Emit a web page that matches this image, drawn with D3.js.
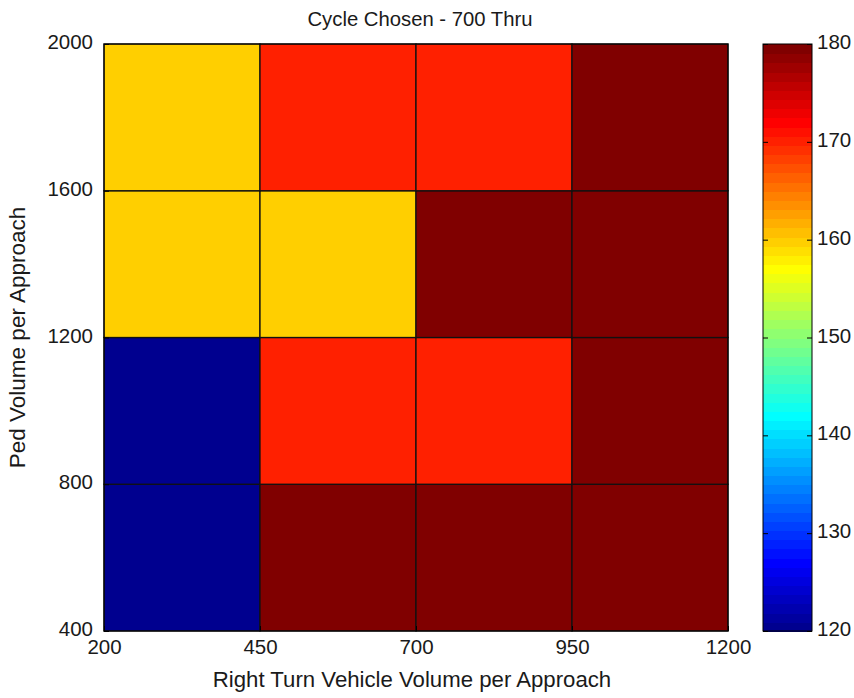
<!DOCTYPE html>
<html>
<head>
<meta charset="utf-8">
<script src="https://cdn.jsdelivr.net/npm/d3@7/dist/d3.min.js"></script>
<style>
  html, body { margin: 0; padding: 0; background: #fff; }
  svg { display: block; }
  text { font-family: "Liberation Sans", Arial, sans-serif; fill: #1a1a1a; }
</style>
</head>
<body>
<svg id="chart" width="854" height="698"></svg>
<script>
// Bin edges of the grid
const xEdges = [200, 450, 700, 950, 1200];
const yEdges = [400, 800, 1200, 1600, 2000];
// Chosen cycle length per cell, one row per ped-volume bin (bottom to top)
const row400 = [120, 180, 180, 180];
const row800 = [120, 170, 170, 180];
const row1200 = [160, 160, 180, 180];
const row1600 = [160, 170, 170, 180];
const cycleRows = [row400, row800, row1200, row1600];
const colorDomain = [120, 180];
const colorbarTicks = [120, 130, 140, 150, 160, 170, 180];

const title = "Cycle Chosen - 700 Thru";
const xLabel = "Right Turn Vehicle Volume per Approach";
const yLabel = "Ped Volume per Approach";

// MATLAB-style jet(64) colormap
function jet(m) {
  const n = Math.ceil(m / 4);
  const u = [];
  for (let i = 1; i <= n; i++) u.push(i / n);
  for (let i = 1; i <= n - 1; i++) u.push(1);
  for (let i = n; i >= 1; i--) u.push(i / n);
  const off = Math.ceil(n / 2) - (m % 4 === 1 ? 1 : 0);
  const cols = [];
  for (let k = 1; k <= m; k++) {
    const get = idx => (idx >= 1 && idx <= u.length) ? u[idx - 1] : 0;
    const g = get(k - off);
    const r = get(k - off - n);
    const b = get(k - off + n);
    cols.push(d3.rgb(r * 255, g * 255, b * 255).formatHex());
  }
  return cols;
}
const jet64 = jet(64);

const svg = d3.select("#chart");
const plot = { left: 104, right: 728, top: 44, bottom: 631 };
const cbar = { left: 763, right: 812 };

const x = d3.scaleLinear().domain([xEdges[0], xEdges[xEdges.length - 1]]).range([plot.left, plot.right]);
const y = d3.scaleLinear().domain([yEdges[0], yEdges[yEdges.length - 1]]).range([plot.bottom, plot.top]);
const color = d3.scaleQuantize().domain(colorDomain).range(jet64);

// Cells
const cells = [];
cycleRows.forEach((row, ri) => row.forEach((v, ci) => cells.push({
  x0: xEdges[ci], x1: xEdges[ci + 1], y0: yEdges[ri], y1: yEdges[ri + 1], v
})));

svg.append("g").selectAll("rect").data(cells).join("rect")
  .attr("x", d => x(d.x0))
  .attr("y", d => y(d.y1))
  .attr("width", d => x(d.x1) - x(d.x0))
  .attr("height", d => y(d.y0) - y(d.y1))
  .attr("fill", d => color(d.v))
  .attr("stroke", "#111")
  .attr("stroke-width", 1.3);

// Axes with inward ticks
const xAxis = d3.axisBottom(x).tickValues(xEdges).tickSize(-5).tickPadding(9).tickFormat(d3.format("d"));
const yAxis = d3.axisLeft(y).tickValues(yEdges).tickSize(-5).tickPadding(11).tickFormat(d3.format("d"));

const gx = svg.append("g").attr("transform", `translate(0,${plot.bottom})`).call(xAxis);
const gy = svg.append("g").attr("transform", `translate(${plot.left},0)`).call(yAxis);
[gx, gy].forEach(g => {
  g.select(".domain").remove();
  g.selectAll("line").attr("stroke", "#000");
  g.selectAll("text").style("font-size", "20.5px");
});
gx.selectAll("text").attr("dy", "0.71em").attr("y", 8);
gy.selectAll("text").attr("dy", "0.22em");

// Box
svg.append("rect")
  .attr("x", plot.left).attr("y", plot.top)
  .attr("width", plot.right - plot.left).attr("height", plot.bottom - plot.top)
  .attr("fill", "none").attr("stroke", "#000").attr("stroke-width", 1);

// Title and labels
svg.append("text").attr("x", (plot.left + plot.right) / 2 + 4).attr("y", 26)
  .attr("text-anchor", "middle").style("font-size", "20.3px").text(title);
svg.append("text").attr("x", (plot.left + plot.right) / 2 - 4).attr("y", 687)
  .attr("text-anchor", "middle").style("font-size", "22.2px").text(xLabel);
svg.append("text")
  .attr("transform", `translate(25,${(plot.top + plot.bottom) / 2}) rotate(-90)`)
  .attr("text-anchor", "middle").style("font-size", "22.5px").text(yLabel);

// Colorbar
const cy = d3.scaleLinear().domain(colorDomain).range([plot.bottom, plot.top]);
const step = (colorDomain[1] - colorDomain[0]) / jet64.length;
svg.append("g").attr("shape-rendering", "crispEdges")
  .selectAll("rect").data(jet64).join("rect")
  .attr("x", cbar.left)
  .attr("y", (d, i) => cy(colorDomain[0] + (i + 1) * step))
  .attr("width", cbar.right - cbar.left)
  .attr("height", (d, i) => cy(colorDomain[0] + i * step) - cy(colorDomain[0] + (i + 1) * step) + 1)
  .attr("fill", d => d);

const cAxisR = d3.axisRight(cy).tickValues(colorbarTicks).tickSize(-5).tickPadding(5);
const cAxisL = d3.axisLeft(cy).tickValues(colorbarTicks).tickSize(-5).tickFormat("");
const gcr = svg.append("g").attr("transform", `translate(${cbar.right},0)`).call(cAxisR);
const gcl = svg.append("g").attr("transform", `translate(${cbar.left},0)`).call(cAxisL);
[gcr, gcl].forEach(g => {
  g.select(".domain").remove();
  g.selectAll("line").attr("stroke", "#000");
});
gcr.selectAll("text").style("font-size", "20.5px").attr("dy", "0.22em");

svg.append("rect")
  .attr("x", cbar.left).attr("y", plot.top)
  .attr("width", cbar.right - cbar.left).attr("height", plot.bottom - plot.top)
  .attr("fill", "none").attr("stroke", "#000").attr("stroke-width", 1);
</script>
</body>
</html>
